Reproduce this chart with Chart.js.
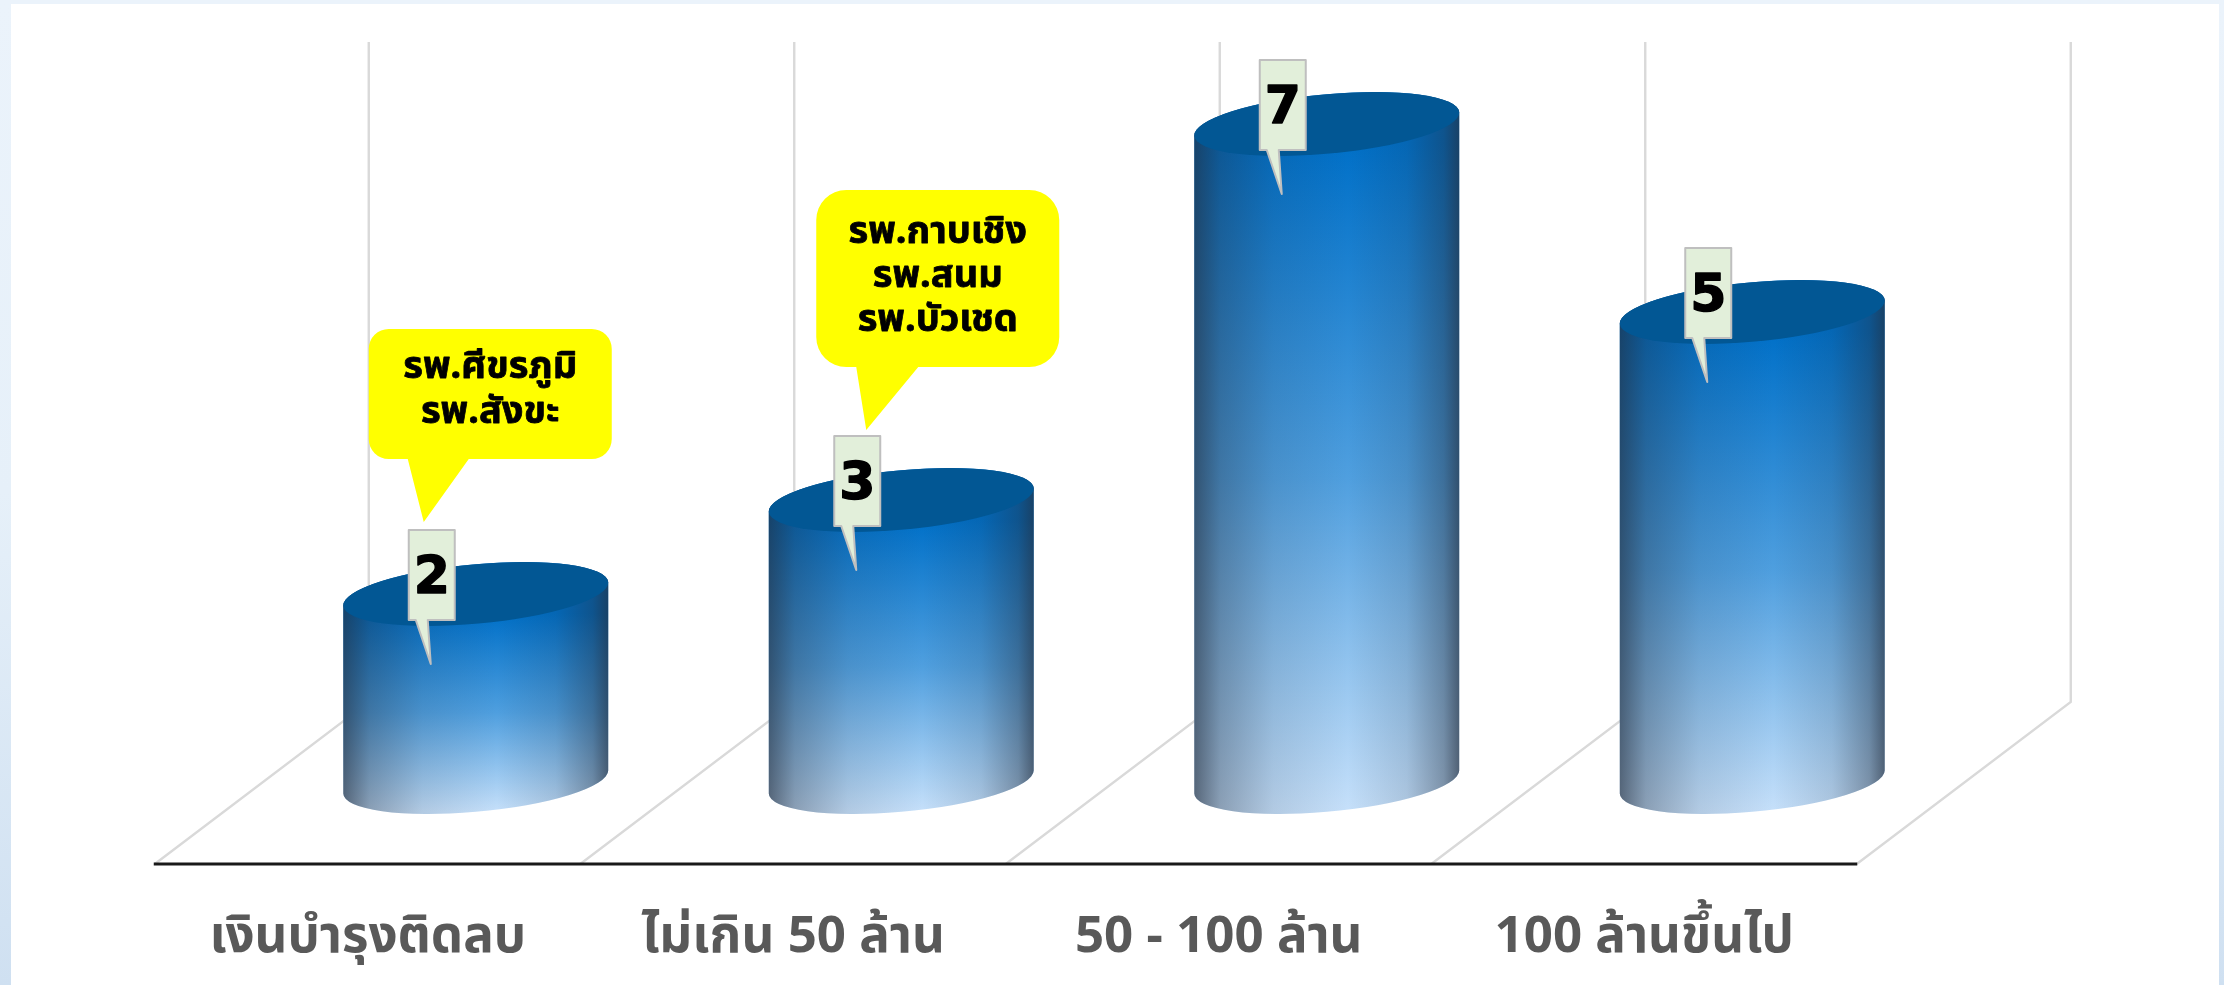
<!DOCTYPE html>
<html>
<head>
<meta charset="utf-8">
<script src="https://cdn.jsdelivr.net/npm/chart.js@4"></script>
<style>
  html, body { margin: 0; height: 985px; overflow: hidden; }
  body { background: linear-gradient(180deg, #ebf3fb 0%, #e6f0f9 50%, #cfe0f1 100%); }
  .panel { position: absolute; left: 11px; top: 4px; width: 2208px; height: 981px; background: #fff; }
  #chart { position: absolute; left: 0; top: 0; }
</style>
</head>
<body>
<div class="panel"></div>
<canvas id="chart" width="2224" height="985"></canvas>
<script>
// ── data ──
const categories = ['เงินบำรุงติดลบ', 'ไม่เกิน 50 ล้าน', '50 - 100 ล้าน', '100 ล้านขึ้นไป'];
const counts = [2, 3, 7, 5];
const hospitalNotes = [
  ['รพ.ศีขรภูมิ', 'รพ.สังขะ'],
  ['รพ.กาบเชิง', 'รพ.สนม', 'รพ.บัวเชด'],
  [],
  []
];

const THAI_FONT = '"Noto Sans", "Noto Sans Thai", "DejaVu Sans", sans-serif';

// ── cylinder look ──
const RX = 133, RY = 29.7, TILT = -5.2 * Math.PI / 180;
const T0 = Math.atan(-(RY / RX) * Math.tan(TILT));

function cylinder(ctx, cx, top, base) {
  ctx.save();
  ctx.beginPath();
  ctx.ellipse(cx, base, RX, RY, TILT, T0, T0 + Math.PI);
  ctx.ellipse(cx, top, RX, RY, TILT, T0 + Math.PI, T0 + 2 * Math.PI);
  ctx.closePath();
  ctx.clip();

  const x0 = cx - RX, x1 = cx + RX;
  const v = ctx.createLinearGradient(0, top + 20, 0, base + RY);
  v.addColorStop(0, '#0070c8');
  v.addColorStop(0.5, '#4f9fdf');
  v.addColorStop(1, '#c6e0fa');
  ctx.fillStyle = v;
  ctx.fillRect(x0 - 5, top - 50, RX * 2 + 10, base - top + 100);

  const h = ctx.createLinearGradient(x0, 0, x1, 0);
  h.addColorStop(0, 'rgba(35,45,60,0.68)');
  h.addColorStop(0.10, 'rgba(35,45,60,0.36)');
  h.addColorStop(0.30, 'rgba(35,45,60,0.12)');
  h.addColorStop(0.58, 'rgba(35,45,60,0)');
  h.addColorStop(0.80, 'rgba(35,45,60,0.14)');
  h.addColorStop(0.94, 'rgba(35,45,60,0.42)');
  h.addColorStop(1, 'rgba(35,45,60,0.70)');
  ctx.fillStyle = h;
  ctx.fillRect(x0 - 5, top - 50, RX * 2 + 10, base - top + 100);
  ctx.restore();

  ctx.beginPath();
  ctx.ellipse(cx, top, RX, RY, TILT, 0, 2 * Math.PI);
  ctx.fillStyle = '#025794';
  ctx.fill();
}

function roundedCallout(ctx, left, top, right, bottom, r, tail) {
  ctx.beginPath();
  ctx.moveTo(left + r, top);
  ctx.arcTo(right, top, right, bottom, r);
  ctx.arcTo(right, bottom, left, bottom, r);
  ctx.lineTo(tail[1][0], bottom);
  ctx.lineTo(tail[2][0], tail[2][1]);
  ctx.lineTo(tail[0][0], bottom);
  ctx.arcTo(left, bottom, left, top, r);
  ctx.arcTo(left, top, right, top, r);
  ctx.closePath();
}

// ── 3D floor and back wall ──
const wallPlugin = {
  id: 'wall',
  beforeDatasetsDraw(chart) {
    const { ctx, scales: { x, y } } = chart;
    const base = y.getPixelForValue(0);
    ctx.save();
    ctx.strokeStyle = '#d9d9d9';
    ctx.lineWidth = 2.4;
    for (let i = 0; i <= categories.length; i++) {
      const backX = x.getPixelForValue(0) + (x.getPixelForValue(1) - x.getPixelForValue(0)) * i - 107;
      ctx.beginPath();
      ctx.moveTo(backX, y.top + 12);
      ctx.lineTo(backX, base - 80);
      ctx.lineTo(backX - 214, base + 82);
      ctx.stroke();
    }
    ctx.strokeStyle = '#1a1a1a';
    ctx.lineWidth = 3;
    const firstX = x.getPixelForValue(0) - 322;
    const lastX = x.getPixelForValue(categories.length - 1) + 105;
    ctx.beginPath();
    ctx.moveTo(firstX, base + 82);
    ctx.lineTo(lastX, base + 82);
    ctx.stroke();
    ctx.restore();
  }
};

// ── bars drawn as cylinders from the bar elements ──
const cylinderPlugin = {
  id: 'cylinders',
  beforeDatasetDraw(chart, args) {
    chart.getDatasetMeta(args.index).data.forEach(bar => {
      cylinder(chart.ctx, bar.x, bar.y, bar.base);
    });
    return false;
  },
  afterDatasetsDraw(chart) {
    const { ctx } = chart;
    chart.getDatasetMeta(0).data.forEach((bar, i) => {
      const cx = bar.x, top = bar.y;

      // yellow note, anchored on the bar top
      const lines = hospitalNotes[i];
      if (lines.length) {
        const h = lines.length === 3 ? 177 : 130;
        const bottom = top - 135 + (lines.length === 3 ? 2 : 0);
        const left = cx - (lines.length === 3 ? 85 : 107);
        const right = left + 243;
        const tail = lines.length === 3
          ? [[cx - 45], [cx + 17], [cx - 35, top - 70]]
          : [[cx - 68], [cx - 7], [cx - 52, top - 72]];
        roundedCallout(ctx, left, bottom - h, right, bottom, lines.length === 3 ? 30 : 20, tail);
        ctx.fillStyle = '#ffff00';
        ctx.fill();
        ctx.fillStyle = '#000';
        ctx.strokeStyle = '#000';
        ctx.lineWidth = 0.8;
        ctx.lineJoin = 'round';
        ctx.font = 'bold 38px ' + THAI_FONT;
        ctx.textAlign = 'center';
        ctx.textBaseline = 'middle';
        const step = lines.length === 3 ? 44 : 45;
        const firstY = bottom - h / 2 - step * (lines.length - 1) / 2 - (lines.length === 3 ? 2 : 4);
        lines.forEach((t, k) => {
          ctx.fillText(t, left + 243 / 2, firstY + k * step);
          ctx.strokeText(t, left + 243 / 2, firstY + k * step);
        });
      }

      // value tag
      ctx.beginPath();
      ctx.moveTo(cx - 67, top - 64);
      ctx.lineTo(cx - 21, top - 64);
      ctx.lineTo(cx - 21, top + 26);
      ctx.lineTo(cx - 48, top + 26);
      ctx.lineTo(cx - 45, top + 70);
      ctx.lineTo(cx - 60, top + 26);
      ctx.lineTo(cx - 67, top + 26);
      ctx.closePath();
      ctx.fillStyle = '#e2efda';
      ctx.fill();
      ctx.strokeStyle = '#bfbfbf';
      ctx.lineWidth = 2;
      ctx.stroke();
      ctx.fillStyle = '#000';
      ctx.strokeStyle = '#000';
      ctx.lineWidth = 1.5;
      ctx.font = 'bold 52px "DejaVu Sans", sans-serif';
      ctx.textAlign = 'center';
      ctx.textBaseline = 'middle';
      ctx.fillText(String(counts[i]), cx - 44, top - 15);
      ctx.strokeText(String(counts[i]), cx - 44, top - 15);
    });
  }
};

new Chart(document.getElementById('chart'), {
  type: 'bar',
  data: {
    labels: categories,
    datasets: [{ data: counts, backgroundColor: '#0070c4' }]
  },
  plugins: [wallPlugin, cylinderPlugin],
  options: {
    responsive: false,
    animation: false,
    layout: { padding: { left: 263, right: 259, top: 30, bottom: 0 } },
    plugins: { legend: { display: false }, tooltip: { enabled: false } },
    scales: {
      x: {
        afterFit: s => { s.height = 203; },
        grid: { display: false, drawTicks: false },
        border: { display: false },
        ticks: {
          maxRotation: 0,
          autoSkip: false,
          padding: 125,
          labelOffset: -108,
          color: '#595959',
          font: { family: THAI_FONT, weight: 'bold', size: 51 }
        }
      },
      y: { display: false, min: 0, max: 8 }
    }
  }
});
</script>
</body>
</html>
